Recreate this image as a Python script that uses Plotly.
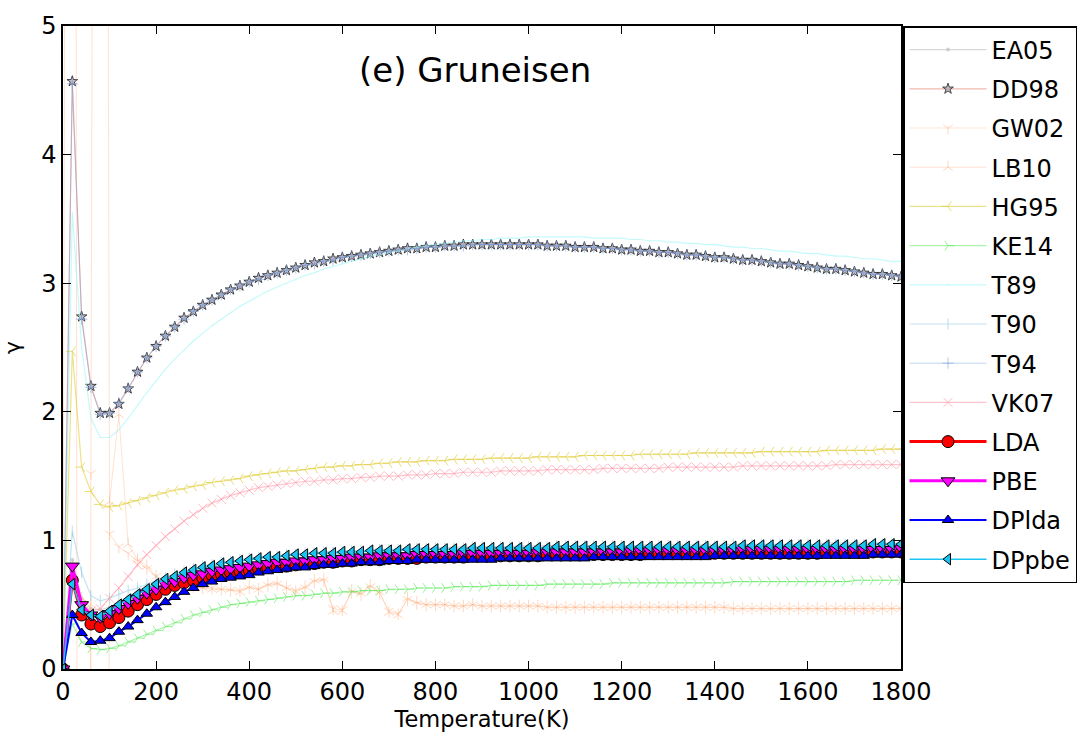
import plotly.graph_objects as go

T = list(range(0, 1801, 20))

EA05 = [0.00, 0.85, 0.55, 0.47, 0.46, 0.48, 0.52, 0.56, 0.60, 0.64,
        0.68, 0.71, 0.74, 0.76, 0.78, 0.80, 0.82, 0.83, 0.84, 0.85,
        0.86, 0.87, 0.88, 0.88, 0.89, 0.90, 0.90, 0.91, 0.91, 0.91,
        0.92, 0.92, 0.92, 0.93, 0.93, 0.93, 0.93, 0.94, 0.94, 0.94,
        0.94, 0.94, 0.95, 0.95, 0.95, 0.95, 0.95, 0.95, 0.95, 0.96,
        0.96, 0.96, 0.96, 0.96, 0.96, 0.96, 0.96, 0.96, 0.96, 0.96,
        0.96, 0.96, 0.96, 0.97, 0.97, 0.97, 0.97, 0.97, 0.97, 0.97,
        0.97, 0.97, 0.97, 0.97, 0.97, 0.97, 0.97, 0.97, 0.97, 0.97,
        0.97, 0.97, 0.98, 0.98, 0.98, 0.98, 0.98, 0.98, 0.98, 0.98,
        0.98]

DD98 = [0.00, 4.57, 2.74, 2.20, 1.99, 1.99, 2.06, 2.18, 2.31, 2.42,
        2.51, 2.59, 2.66, 2.73, 2.78, 2.83, 2.87, 2.91, 2.95, 2.98,
        3.01, 3.04, 3.06, 3.08, 3.10, 3.12, 3.14, 3.16, 3.17, 3.19,
        3.20, 3.21, 3.22, 3.23, 3.24, 3.25, 3.26, 3.27, 3.27, 3.28,
        3.28, 3.29, 3.29, 3.30, 3.30, 3.30, 3.30, 3.30, 3.30, 3.30,
        3.30, 3.30, 3.29, 3.29, 3.29, 3.28, 3.28, 3.28, 3.27, 3.27,
        3.26, 3.26, 3.25, 3.25, 3.24, 3.24, 3.23, 3.22, 3.22, 3.21,
        3.20, 3.20, 3.19, 3.18, 3.18, 3.17, 3.16, 3.15, 3.15, 3.14,
        3.13, 3.12, 3.11, 3.11, 3.10, 3.09, 3.08, 3.07, 3.07, 3.06,
        3.05]

GW02 = [0.00, 30.0, -30.0, 1.52, 30.0, 1.05, 0.95, 0.90, 0.84, 0.78,
        0.72, 0.69, 0.67, 0.65, 0.64, 0.63, 0.63, 0.62, 0.61, 0.61,
        0.63, 0.62, 0.65, 0.66, 0.63, 0.61, 0.63, 0.68, 0.69, 0.47,
        0.46, 0.60, 0.58, 0.64, 0.59, 0.45, 0.43, 0.54, 0.51, 0.50,
        0.50, 0.50, 0.49, 0.49, 0.50, 0.49, 0.49, 0.49, 0.49, 0.49,
        0.49, 0.49, 0.48, 0.48, 0.48, 0.48, 0.48, 0.48, 0.48, 0.48,
        0.48, 0.48, 0.48, 0.48, 0.48, 0.48, 0.48, 0.48, 0.48, 0.48,
        0.48, 0.48, 0.47, 0.47, 0.47, 0.47, 0.47, 0.47, 0.47, 0.47,
        0.47, 0.47, 0.47, 0.47, 0.47, 0.47, 0.47, 0.47, 0.47, 0.47,
        0.47]

LB10 = [0.00, 0.62, 0.55, 0.50, -30.0, 1.30, 1.98, 0.97, 0.85, 0.80,
        0.72, 0.68, 0.66, 0.65, 0.64, 0.63, 0.62, 0.62, 0.62, 0.60,
        0.64, 0.62, 0.66, 0.67, 0.63, 0.60, 0.64, 0.69, 0.70, 0.45,
        0.45, 0.61, 0.59, 0.65, 0.60, 0.44, 0.42, 0.55, 0.52, 0.50,
        0.50, 0.50, 0.49, 0.49, 0.50, 0.49, 0.49, 0.49, 0.49, 0.49,
        0.49, 0.49, 0.48, 0.48, 0.48, 0.48, 0.48, 0.48, 0.48, 0.48,
        0.48, 0.48, 0.48, 0.48, 0.48, 0.48, 0.48, 0.48, 0.48, 0.48,
        0.48, 0.48, 0.47, 0.47, 0.47, 0.47, 0.47, 0.47, 0.47, 0.47,
        0.47, 0.47, 0.47, 0.47, 0.47, 0.47, 0.47, 0.47, 0.47, 0.47,
        0.47]

HG95 = [0.00, 2.47, 1.57, 1.38, 1.28, 1.26, 1.27, 1.29, 1.31, 1.33,
        1.35, 1.37, 1.39, 1.40, 1.42, 1.43, 1.45, 1.46, 1.47, 1.48,
        1.50, 1.51, 1.52, 1.53, 1.54, 1.54, 1.55, 1.56, 1.57, 1.57,
        1.58, 1.58, 1.59, 1.59, 1.60, 1.60, 1.61, 1.61, 1.61, 1.62,
        1.62, 1.62, 1.63, 1.63, 1.63, 1.63, 1.64, 1.64, 1.64, 1.64,
        1.64, 1.65, 1.65, 1.65, 1.65, 1.65, 1.66, 1.66, 1.66, 1.66,
        1.66, 1.66, 1.67, 1.67, 1.67, 1.67, 1.67, 1.67, 1.68, 1.68,
        1.68, 1.68, 1.68, 1.68, 1.68, 1.69, 1.69, 1.69, 1.69, 1.69,
        1.69, 1.69, 1.70, 1.70, 1.70, 1.70, 1.70, 1.70, 1.71, 1.71,
        1.71]

KE14 = [0.00, 0.35, 0.21, 0.16, 0.15, 0.16, 0.18, 0.21, 0.24, 0.27,
        0.30, 0.33, 0.36, 0.39, 0.42, 0.44, 0.46, 0.48, 0.50, 0.51,
        0.52, 0.53, 0.54, 0.55, 0.56, 0.57, 0.57, 0.58, 0.59, 0.59,
        0.60, 0.60, 0.61, 0.61, 0.61, 0.62, 0.62, 0.62, 0.63, 0.63,
        0.63, 0.63, 0.64, 0.64, 0.64, 0.64, 0.65, 0.65, 0.65, 0.65,
        0.65, 0.65, 0.66, 0.66, 0.66, 0.66, 0.66, 0.66, 0.66, 0.67,
        0.67, 0.67, 0.67, 0.67, 0.67, 0.67, 0.67, 0.67, 0.67, 0.67,
        0.67, 0.67, 0.68, 0.68, 0.68, 0.68, 0.68, 0.68, 0.68, 0.68,
        0.68, 0.68, 0.68, 0.68, 0.68, 0.69, 0.69, 0.69, 0.69, 0.69,
        0.69]

T89 = [0.00, 3.55, 2.50, 1.95, 1.80, 1.80, 1.86, 1.95, 2.05, 2.15,
       2.24, 2.33, 2.41, 2.48, 2.55, 2.61, 2.67, 2.72, 2.77, 2.82,
       2.86, 2.90, 2.94, 2.97, 3.00, 3.03, 3.06, 3.08, 3.11, 3.13,
       3.15, 3.17, 3.19, 3.21, 3.22, 3.24, 3.25, 3.27, 3.28, 3.29,
       3.30, 3.31, 3.32, 3.33, 3.33, 3.34, 3.34, 3.35, 3.35, 3.35,
       3.36, 3.36, 3.36, 3.36, 3.36, 3.36, 3.36, 3.35, 3.35, 3.35,
       3.35, 3.34, 3.34, 3.33, 3.33, 3.32, 3.32, 3.31, 3.31, 3.30,
       3.30, 3.29, 3.28, 3.28, 3.27, 3.27, 3.26, 3.25, 3.25, 3.24,
       3.23, 3.23, 3.22, 3.21, 3.21, 3.20, 3.19, 3.19, 3.18, 3.17,
       3.17]

T90 = [0.00, 1.07, 0.75, 0.57, 0.53, 0.55, 0.58, 0.61, 0.63, 0.66,
       0.69, 0.71, 0.74, 0.76, 0.78, 0.80, 0.81, 0.83, 0.84, 0.85,
       0.86, 0.87, 0.87, 0.88, 0.89, 0.89, 0.90, 0.90, 0.91, 0.91,
       0.91, 0.92, 0.92, 0.92, 0.93, 0.93, 0.93, 0.93, 0.94, 0.94,
       0.94, 0.94, 0.94, 0.94, 0.95, 0.95, 0.95, 0.95, 0.95, 0.95,
       0.95, 0.95, 0.95, 0.96, 0.96, 0.96, 0.96, 0.96, 0.96, 0.96,
       0.96, 0.96, 0.96, 0.96, 0.96, 0.96, 0.96, 0.96, 0.96, 0.96,
       0.96, 0.96, 0.97, 0.97, 0.97, 0.97, 0.97, 0.97, 0.97, 0.97,
       0.97, 0.97, 0.97, 0.97, 0.97, 0.97, 0.97, 0.97, 0.97, 0.97,
       0.97]

T94 = [0.00, 4.55, 2.72, 2.19, 1.98, 1.99, 2.07, 2.19, 2.31, 2.42,
       2.51, 2.59, 2.66, 2.72, 2.78, 2.83, 2.87, 2.91, 2.95, 2.98,
       3.01, 3.03, 3.06, 3.08, 3.10, 3.12, 3.14, 3.15, 3.17, 3.18,
       3.20, 3.21, 3.22, 3.23, 3.24, 3.25, 3.26, 3.26, 3.27, 3.28,
       3.28, 3.29, 3.29, 3.29, 3.30, 3.30, 3.30, 3.30, 3.30, 3.30,
       3.30, 3.30, 3.29, 3.29, 3.29, 3.28, 3.28, 3.28, 3.27, 3.27,
       3.26, 3.26, 3.25, 3.25, 3.24, 3.24, 3.23, 3.22, 3.22, 3.21,
       3.20, 3.20, 3.19, 3.18, 3.18, 3.17, 3.16, 3.15, 3.15, 3.14,
       3.13, 3.12, 3.11, 3.11, 3.10, 3.09, 3.08, 3.07, 3.07, 3.06,
       3.05]

VK07 = [0.00, 0.70, 0.50, 0.45, 0.47, 0.55, 0.63, 0.72, 0.81, 0.89,
        0.96, 1.03, 1.09, 1.15, 1.20, 1.25, 1.29, 1.32, 1.35, 1.37,
        1.39, 1.41, 1.42, 1.43, 1.44, 1.45, 1.46, 1.46, 1.47, 1.47,
        1.48, 1.48, 1.49, 1.49, 1.50, 1.50, 1.50, 1.51, 1.51, 1.51,
        1.52, 1.52, 1.52, 1.53, 1.53, 1.53, 1.53, 1.54, 1.54, 1.54,
        1.54, 1.54, 1.55, 1.55, 1.55, 1.55, 1.55, 1.55, 1.56, 1.56,
        1.56, 1.56, 1.56, 1.56, 1.56, 1.57, 1.57, 1.57, 1.57, 1.57,
        1.57, 1.57, 1.57, 1.58, 1.58, 1.58, 1.58, 1.58, 1.58, 1.58,
        1.58, 1.58, 1.58, 1.59, 1.59, 1.59, 1.59, 1.59, 1.59, 1.59,
        1.59]

LDA = [0.00, 0.69, 0.42, 0.35, 0.33, 0.36, 0.40, 0.45, 0.50, 0.54,
       0.58, 0.62, 0.65, 0.67, 0.69, 0.71, 0.73, 0.74, 0.75, 0.76,
       0.77, 0.78, 0.79, 0.80, 0.80, 0.81, 0.82, 0.82, 0.83, 0.83,
       0.84, 0.84, 0.85, 0.85, 0.85, 0.86, 0.86, 0.86, 0.86, 0.87,
       0.87, 0.87, 0.87, 0.87, 0.88, 0.88, 0.88, 0.88, 0.88, 0.88,
       0.88, 0.88, 0.89, 0.89, 0.89, 0.89, 0.89, 0.89, 0.89, 0.89,
       0.89, 0.89, 0.89, 0.90, 0.90, 0.90, 0.90, 0.90, 0.90, 0.90,
       0.90, 0.90, 0.90, 0.90, 0.90, 0.90, 0.90, 0.90, 0.90, 0.90,
       0.90, 0.90, 0.91, 0.91, 0.91, 0.91, 0.91, 0.91, 0.91, 0.91,
       0.91]

PBE = [0.00, 0.80, 0.50, 0.42, 0.40, 0.43, 0.47, 0.51, 0.55, 0.59,
       0.62, 0.66, 0.68, 0.71, 0.73, 0.74, 0.76, 0.77, 0.78, 0.79,
       0.80, 0.81, 0.82, 0.83, 0.83, 0.84, 0.84, 0.85, 0.85, 0.86,
       0.86, 0.87, 0.87, 0.87, 0.88, 0.88, 0.88, 0.88, 0.89, 0.89,
       0.89, 0.89, 0.89, 0.90, 0.90, 0.90, 0.90, 0.90, 0.90, 0.90,
       0.90, 0.91, 0.91, 0.91, 0.91, 0.91, 0.91, 0.91, 0.91, 0.91,
       0.91, 0.92, 0.92, 0.92, 0.92, 0.92, 0.92, 0.92, 0.92, 0.92,
       0.92, 0.92, 0.92, 0.93, 0.93, 0.93, 0.93, 0.93, 0.93, 0.93,
       0.93, 0.93, 0.93, 0.93, 0.93, 0.93, 0.93, 0.93, 0.93, 0.93,
       0.94]

DPlda = [0.00, 0.42, 0.28, 0.21, 0.22, 0.24, 0.29, 0.33, 0.38, 0.43,
         0.48, 0.52, 0.56, 0.60, 0.63, 0.66, 0.68, 0.70, 0.71, 0.72,
         0.73, 0.75, 0.76, 0.77, 0.78, 0.79, 0.79, 0.80, 0.81, 0.81,
         0.82, 0.82, 0.83, 0.83, 0.83, 0.84, 0.84, 0.84, 0.85, 0.85,
         0.85, 0.85, 0.85, 0.85, 0.85, 0.85, 0.85, 0.86, 0.86, 0.86,
         0.86, 0.86, 0.86, 0.86, 0.86, 0.86, 0.86, 0.87, 0.87, 0.87,
         0.87, 0.87, 0.87, 0.87, 0.87, 0.87, 0.87, 0.87, 0.87, 0.87,
         0.88, 0.88, 0.88, 0.88, 0.88, 0.88, 0.88, 0.88, 0.88, 0.88,
         0.88, 0.88, 0.88, 0.88, 0.88, 0.88, 0.88, 0.89, 0.89, 0.89,
         0.89]

DPpbe = [0.00, 0.66, 0.46, 0.42, 0.41, 0.45, 0.50, 0.54, 0.58, 0.62,
         0.66, 0.70, 0.72, 0.75, 0.77, 0.79, 0.80, 0.82, 0.83, 0.84,
         0.85, 0.86, 0.87, 0.87, 0.88, 0.89, 0.89, 0.90, 0.90, 0.90,
         0.91, 0.91, 0.91, 0.92, 0.92, 0.92, 0.92, 0.93, 0.93, 0.93,
         0.93, 0.93, 0.93, 0.93, 0.94, 0.94, 0.94, 0.94, 0.94, 0.94,
         0.94, 0.94, 0.94, 0.95, 0.95, 0.95, 0.95, 0.95, 0.95, 0.95,
         0.95, 0.95, 0.95, 0.95, 0.95, 0.95, 0.95, 0.95, 0.95, 0.95,
         0.95, 0.95, 0.95, 0.96, 0.96, 0.96, 0.96, 0.96, 0.96, 0.96,
         0.96, 0.96, 0.96, 0.96, 0.96, 0.96, 0.96, 0.97, 0.97, 0.97,
         0.97]

FONT = "DejaVu Sans"

# name, values, line color, line width, marker symbol, marker size, marker fill, marker edge color, edge width
styles = [
    ("EA05", EA05, "rgba(185,185,185,0.55)", 1.2, "circle", 4, "rgba(185,185,185,0.6)", "rgba(185,185,185,0.6)", 0),
    ("DD98", DD98, "rgba(225,130,110,0.55)", 1.2, "star", 8, "rgba(170,165,185,0.7)", "rgba(40,40,40,0.85)", 1),
    ("GW02", GW02, "rgba(255,170,120,0.35)", 1.0, "y-down", 8, "rgba(255,170,120,0.35)", "rgba(255,170,120,0.45)", 1),
    ("LB10", LB10, "rgba(255,170,120,0.35)", 1.0, "y-up", 8, "rgba(255,170,120,0.35)", "rgba(255,170,120,0.45)", 1),
    ("HG95", HG95, "rgba(225,205,60,0.6)", 1.2, "y-left", 8, "rgba(225,205,60,0.6)", "rgba(225,205,60,0.7)", 1),
    ("KE14", KE14, "rgba(70,230,70,0.45)", 1.2, "y-right", 8, "rgba(70,230,70,0.45)", "rgba(70,230,70,0.55)", 1),
    ("T89", T89, "rgba(150,245,245,0.55)", 1.2, "circle", 1, "rgba(150,245,245,0.3)", "rgba(150,245,245,0.3)", 0),
    ("T90", T90, "rgba(140,200,225,0.5)", 1.2, "line-ns", 8, "rgba(140,200,225,0.5)", "rgba(140,200,225,0.6)", 1),
    ("T94", T94, "rgba(120,160,220,0.45)", 1.0, "cross-thin", 8, "rgba(120,160,220,0.5)", "rgba(120,160,220,0.6)", 1),
    ("VK07", VK07, "rgba(255,150,165,0.55)", 1.2, "x-thin", 9, "rgba(255,150,165,0.6)", "rgba(255,150,165,0.65)", 1),
    ("LDA", LDA, "red", 3.0, "circle", 12, "red", "black", 1),
    ("PBE", PBE, "magenta", 3.0, "triangle-down", 12, "magenta", "black", 1),
    ("DPlda", DPlda, "blue", 2.0, "triangle-up", 10, "blue", "black", 1),
    ("DPpbe", DPpbe, "#1cc4f2", 1.5, "triangle-left", 10, "#1cc4f2", "black", 1),
]

fig = go.Figure()
for name, vals, lc, lw, sym, ms, mfill, medge, mew in styles:
    fig.add_trace(go.Scatter(
        x=T, y=vals, name=name, mode="lines+markers", legendgroup=name,
        line=dict(color=lc, width=lw),
        marker=dict(symbol=sym, size=ms, color=mfill, line=dict(color=medge, width=mew)),
    ))

axis_common = dict(
    showline=True, linecolor="black", linewidth=1.5, mirror="ticks",
    ticks="inside", ticklen=8, tickwidth=1, tickcolor="black",
    showgrid=False, zeroline=False,
    tickfont=dict(family=FONT, size=24, color="black"),
)

fig.update_layout(
    width=1089, height=740,
    margin=dict(l=63, r=187, t=19, b=71),
    paper_bgcolor="white", plot_bgcolor="white",
    font=dict(family=FONT, color="black"),
    showlegend=True,
    legend=dict(
        x=1.0024, y=1.0, xanchor="left", yanchor="top",
        bordercolor="black", borderwidth=1.5, bgcolor="white",
        font=dict(family=FONT, size=24, color="black"),
        tracegroupgap=5, itemwidth=77,
    ),
    xaxis=dict(range=[0, 1800], tickvals=[0, 200, 400, 600, 800, 1000, 1200, 1400, 1600, 1800],
               title=dict(text="Temperature(K)", font=dict(family=FONT, size=22.5), standoff=6),
               **axis_common),
    yaxis=dict(range=[0, 5], tickvals=[0, 1, 2, 3, 4, 5],
               title=dict(text="γ", font=dict(family=FONT, size=22), standoff=14),
               **axis_common),
    annotations=[dict(text="(e) Gruneisen", x=0.492, y=0.932, xref="paper", yref="paper",
                      xanchor="center", yanchor="middle",
                      showarrow=False, font=dict(family=FONT, size=34, color="black"))],
)

fig.write_html("out.html")
